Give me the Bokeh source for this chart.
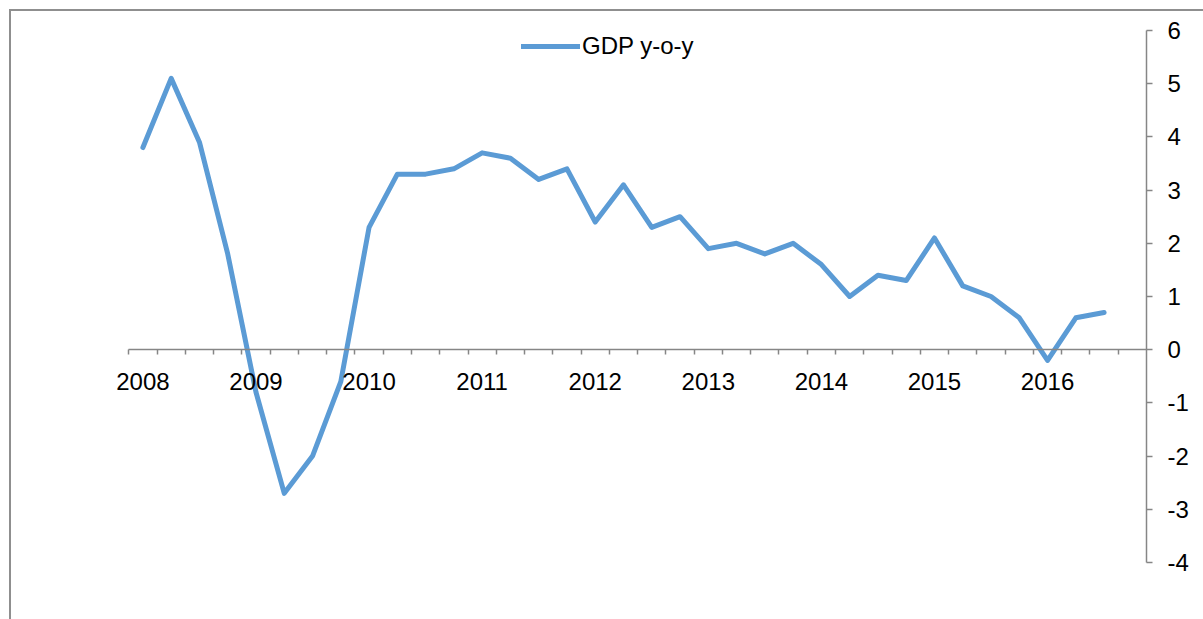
from bokeh.plotting import figure
from bokeh.models import LinearAxis, FixedTicker, Range1d
from bokeh.embed import file_html
from bokeh.resources import INLINE

# ---- data ----
years = ["2008", "2009", "2010", "2011", "2012", "2013", "2014", "2015", "2016"]
quarters_per_year = 4
n_categories = 36  # 2008Q1 .. 2016Q4 (last quarter empty)
gdp_yoy = [3.8, 5.1, 3.9, 1.8,
           -0.8, -2.7, -2.0, -0.6,
           2.3, 3.3, 3.3, 3.4,
           3.7, 3.6, 3.2, 3.4,
           2.4, 3.1, 2.3, 2.5,
           1.9, 2.0, 1.8, 2.0,
           1.6, 1.0, 1.4, 1.3,
           2.1, 1.2, 1.0, 0.6,
           -0.2, 0.6, 0.7]
y_ticks = [-4, -3, -2, -1, 0, 1, 2, 3, 4, 5, 6]
series_name = "GDP y-o-y"

FONT = "Liberation Sans"
FS = "24px"
AXIS_COLOR = "#868686"
LINE_COLOR = "#5B9BD5"

x = [i + 0.5 for i in range(len(gdp_yoy))]

# one empty category of room on the left so the first year label is not clipped
p = figure(width=1203, height=619,
           x_range=Range1d(-1, n_categories), y_range=Range1d(y_ticks[0], y_ticks[-1]),
           toolbar_location=None, output_backend="svg",
           x_axis_type=None, y_axis_type=None)

p.min_border_left = 100
p.min_border_right = 57
p.min_border_top = 30
p.min_border_bottom = 57
p.outline_line_color = None
p.xgrid.visible = False
p.ygrid.visible = False
p.border_fill_color = None
p.background_fill_color = None
p.styles = {"box-shadow": "inset 9px 9px 0 0 #ffffff, inset 11px 11px 0 0 #8f8f8f",
            "background-color": "#ffffff"}

p.line(x, gdp_yoy, line_color=LINE_COLOR, line_width=5,
       line_join="round", line_cap="round", legend_label=series_name)

# right value axis
yaxis = LinearAxis(ticker=FixedTicker(ticks=y_ticks))
yaxis.major_label_overrides = {t: str(t) for t in y_ticks}
yaxis.axis_line_color = AXIS_COLOR
yaxis.axis_line_width = 1.5
yaxis.major_tick_line_color = AXIS_COLOR
yaxis.major_tick_line_width = 1.5
yaxis.major_tick_in = 0
yaxis.major_tick_out = 6
yaxis.minor_tick_line_color = None
yaxis.major_label_standoff = 15
yaxis.major_label_text_font = FONT
yaxis.major_label_text_font_size = FS
yaxis.major_label_text_color = "black"
p.add_layout(yaxis, "right")

# category axis at y = 0: year labels on first quarter, tick marks at category boundaries
label_pos = [i * quarters_per_year + 0.5 for i in range(len(years))]
xaxis = LinearAxis(ticker=FixedTicker(ticks=label_pos,
                                      minor_ticks=list(range(n_categories))),
                   fixed_location=0, bounds=(0, n_categories))
xaxis.major_label_overrides = {pos: yr for pos, yr in zip(label_pos, years)}
xaxis.axis_line_color = AXIS_COLOR
xaxis.axis_line_width = 1.5
xaxis.major_tick_line_color = None
xaxis.major_tick_in = 0
xaxis.major_tick_out = 0
xaxis.minor_tick_line_color = AXIS_COLOR
xaxis.minor_tick_line_width = 1.5
xaxis.minor_tick_in = 0
xaxis.minor_tick_out = 5
xaxis.major_label_standoff = 18
xaxis.major_label_text_font = FONT
xaxis.major_label_text_font_size = FS
xaxis.major_label_text_color = "black"
p.add_layout(xaxis, "below")

leg = p.legend[0]
leg.location = (421, 502)
leg.border_line_color = None
leg.background_fill_color = None
leg.padding = 0
leg.margin = 0
leg.spacing = 0
leg.glyph_width = 59
leg.glyph_height = 20
leg.label_height = 20
leg.label_standoff = 2
leg.label_text_font = FONT
leg.label_text_font_size = FS
leg.label_text_color = "black"

open("out.html", "w").write(file_html(p, INLINE))
